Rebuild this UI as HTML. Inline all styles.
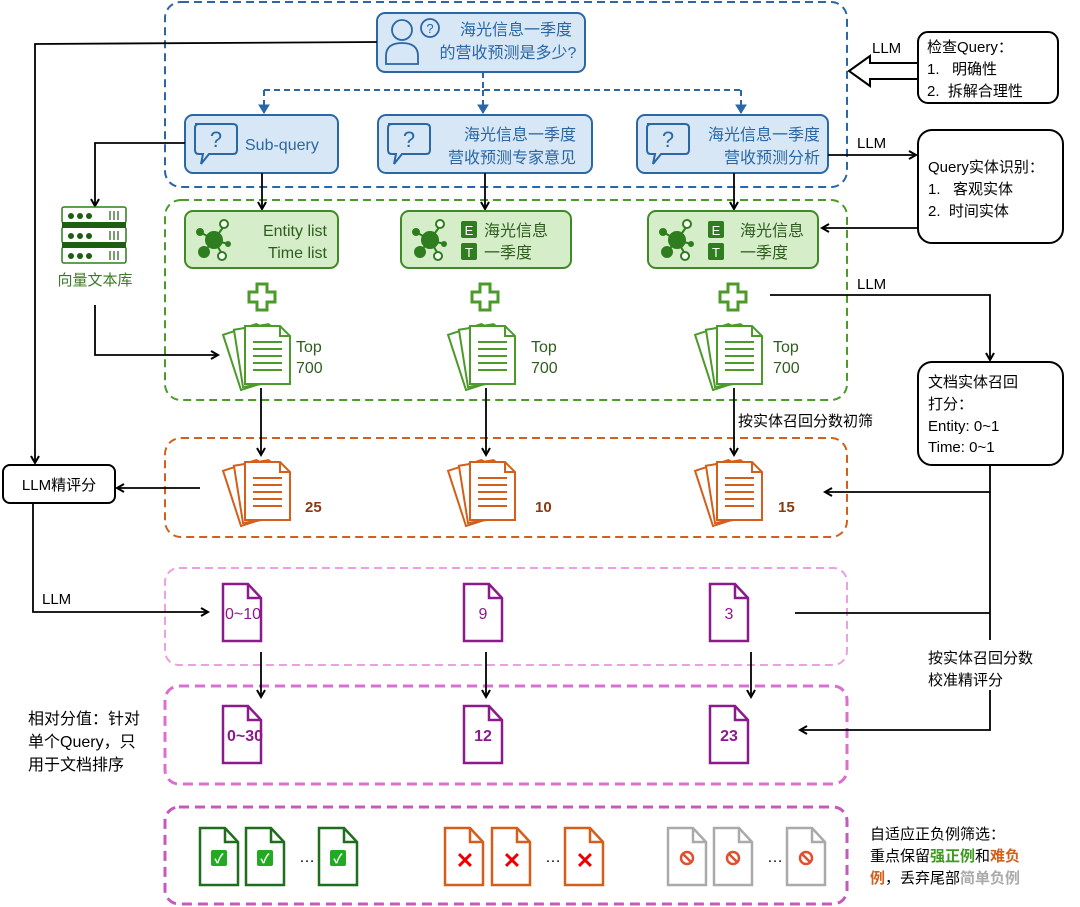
<!DOCTYPE html>
<html><head><meta charset="utf-8"><style>
body{margin:0;background:#fff}
svg{display:block}
text{font-family:"Liberation Sans","Noto Sans CJK SC",sans-serif;white-space:pre}
</style></head><body>
<svg width="1080" height="907" viewBox="0 0 1080 907" xmlns="http://www.w3.org/2000/svg">
<defs>
<marker id="ah" markerWidth="10" markerHeight="10" refX="8" refY="5" orient="auto" markerUnits="userSpaceOnUse"><path d="M1,1 L8,5 L1,9" fill="none" stroke="#000" stroke-width="2"/></marker>
<marker id="ahb" markerWidth="12" markerHeight="12" refX="9" refY="6" orient="auto" markerUnits="userSpaceOnUse"><path d="M1,1 L9,6 L1,11 Z" fill="#2a67a4" stroke="#2a67a4" stroke-width="1"/></marker>
<g id="stack" fill="#fff" stroke="currentColor" stroke-width="2">
<path d="M0,0 H35 L45,10 V58 H0 Z" transform="translate(-4,6) rotate(-18 0 58)"/>
<path d="M0,0 H35 L45,10 V58 H0 Z" transform="translate(-2,3) rotate(-9 0 58)"/>
<path d="M0,0 H35 L45,10 V58 H0 Z"/>
<path d="M35,0 V10 H45" fill="none"/>
<path d="M8,16 H37 M8,23 H37 M8,30 H37 M8,37 H37 M8,44 H37" fill="none"/>
</g>
<g id="doc" fill="#fff" stroke="currentColor" stroke-width="2.5">
<path d="M0,0 H25 L38,14 V57 H0 Z"/><path d="M25,0 V14 H38" fill="none"/>
</g>
<g id="plus"><path d="M-5,-13 H5 V-5 H13 V5 H5 V13 H-5 V5 H-13 V-5 H-5 Z" fill="#fff" stroke="#4b9a2a" stroke-width="3"/></g>
<g id="ent" fill="#2e7d1e" stroke="#2e7d1e" stroke-width="2">
<line x1="0" y1="0" x2="-14" y2="-8"/><line x1="0" y1="0" x2="10" y2="-14"/><line x1="0" y1="0" x2="-10" y2="12"/><line x1="0" y1="0" x2="8" y2="14"/><line x1="0" y1="0" x2="14" y2="4"/>
<circle r="8"/><circle cx="-14" cy="-8" r="3"/><circle cx="-10" cy="12" r="5"/><circle cx="14" cy="4" r="2"/>
<circle cx="10" cy="-16" r="4" fill="#fff"/><circle cx="8" cy="16" r="4" fill="#fff"/>
</g>
<g id="bubble" fill="none" stroke="#2a67a4" stroke-width="2">
<path d="M0,0 H38 Q42,0 42,4 V26 Q42,30 38,30 H14 L6,40 L8,30 H4 Q0,30 0,26 V4 Q0,0 4,0 Z"/>
<text x="21" y="23" text-anchor="middle" font-size="22" fill="#2a67a4" stroke="none">?</text>
</g>
</defs>

<!-- containers -->
<rect x="165" y="2" width="682" height="185" rx="16" fill="none" stroke="#2a67a4" stroke-width="2" stroke-dasharray="8,5"/>
<rect x="165" y="200" width="682" height="200" rx="16" fill="none" stroke="#4b9a2a" stroke-width="2" stroke-dasharray="8,5"/>
<rect x="165" y="438" width="682" height="99" rx="16" fill="none" stroke="#d35f1a" stroke-width="2" stroke-dasharray="8,5"/>
<rect x="165" y="568" width="682" height="97" rx="14" fill="none" stroke="#eba0e4" stroke-width="2" stroke-dasharray="8,5"/>
<rect x="165" y="686" width="682" height="98" rx="14" fill="none" stroke="#db6fd0" stroke-width="3" stroke-dasharray="10,6"/>
<rect x="165" y="807" width="682" height="97" rx="14" fill="none" stroke="#c659bd" stroke-width="3" stroke-dasharray="10,6"/>

<!-- top query -->
<rect x="377" y="13" width="208" height="59" rx="8" fill="#d8e7f6" stroke="#2a67a4" stroke-width="2"/>
<g fill="none" stroke="#2a67a4" stroke-width="1.8"><circle cx="402" cy="30" r="10"/><path d="M386,64 V56 Q386,43 402,43 Q418,43 418,56 V64 Z"/><circle cx="430" cy="28" r="9"/></g>
<text x="430" y="33" text-anchor="middle" font-size="13" fill="#2a67a4">?</text>
<text x="516" y="35" text-anchor="middle" font-size="16" fill="#2a67a4">海光信息一季度</text>
<text x="508" y="58" text-anchor="middle" font-size="16" fill="#2a67a4">的营收预测是多少?</text>
<g fill="none" stroke="#2a67a4" stroke-width="2" stroke-dasharray="6,4">
<path d="M483,72 V90"/><path d="M264,90 H741"/>
</g>
<g fill="none" stroke="#2a67a4" stroke-width="2">
<path d="M264,90 V113" stroke-dasharray="6,4" marker-end="url(#ahb)"/>
<path d="M483,90 V113" stroke-dasharray="6,4" marker-end="url(#ahb)"/>
<path d="M741,90 V113" stroke-dasharray="6,4" marker-end="url(#ahb)"/>
</g>

<!-- sub queries -->
<rect x="185" y="115" width="153" height="58" rx="8" fill="#d8e7f6" stroke="#2a67a4" stroke-width="2"/>
<use href="#bubble" transform="translate(195,124)"/>
<text x="245" y="150" font-size="16" fill="#2a67a4">Sub-query</text>
<rect x="378" y="115" width="214" height="58" rx="8" fill="#d8e7f6" stroke="#2a67a4" stroke-width="2"/>
<use href="#bubble" transform="translate(388,124)"/>
<text x="576" y="140" text-anchor="end" font-size="16" fill="#2a67a4">海光信息一季度</text>
<text x="576" y="163" text-anchor="end" font-size="16" fill="#2a67a4">营收预测专家意见</text>
<rect x="637" y="115" width="191" height="58" rx="8" fill="#d8e7f6" stroke="#2a67a4" stroke-width="2"/>
<use href="#bubble" transform="translate(647,124)"/>
<text x="820" y="140" text-anchor="end" font-size="16" fill="#2a67a4">海光信息一季度</text>
<text x="820" y="163" text-anchor="end" font-size="16" fill="#2a67a4">营收预测分析</text>

<g stroke="#000" stroke-width="1.8" fill="none">
<path d="M262,173 V209" marker-end="url(#ah)"/>
<path d="M485,173 V209" marker-end="url(#ah)"/>
<path d="M734,173 V209" marker-end="url(#ah)"/>
<path d="M261,388 V455" marker-end="url(#ah)"/>
<path d="M486,388 V455" marker-end="url(#ah)"/>
<path d="M734,388 V455" marker-end="url(#ah)"/>
<path d="M261,652 V697" marker-end="url(#ah)"/>
<path d="M486,652 V697" marker-end="url(#ah)"/>
<path d="M751,652 V697" marker-end="url(#ah)"/>
</g>

<!-- entity boxes -->
<rect x="185" y="211" width="153" height="57" rx="8" fill="#d5edc8" stroke="#3f8a26" stroke-width="2"/>
<use href="#ent" transform="translate(214,240)"/>
<text x="327" y="236" text-anchor="end" font-size="16" fill="#2e5e1e">Entity list</text>
<text x="327" y="258" text-anchor="end" font-size="16" fill="#2e5e1e">Time list</text>
<rect x="401" y="211" width="170" height="57" rx="8" fill="#d5edc8" stroke="#3f8a26" stroke-width="2"/>
<use href="#ent" transform="translate(430,240)"/>
<rect x="461" y="221" width="16" height="17" rx="2" fill="#2e7d1e"/><text x="469" y="235" text-anchor="middle" font-size="13" fill="#fff">E</text>
<rect x="461" y="243" width="16" height="17" rx="2" fill="#2e7d1e"/><text x="469" y="257" text-anchor="middle" font-size="13" fill="#fff">T</text>
<text x="484" y="236" font-size="16" fill="#2e5e1e">海光信息</text><text x="484" y="258" font-size="16" fill="#2e5e1e">一季度</text>
<rect x="648" y="211" width="170" height="57" rx="8" fill="#d5edc8" stroke="#3f8a26" stroke-width="2"/>
<use href="#ent" transform="translate(677,240)"/>
<rect x="708" y="221" width="16" height="17" rx="2" fill="#2e7d1e"/><text x="716" y="235" text-anchor="middle" font-size="13" fill="#fff">E</text>
<rect x="708" y="243" width="16" height="17" rx="2" fill="#2e7d1e"/><text x="716" y="257" text-anchor="middle" font-size="13" fill="#fff">T</text>
<text x="740" y="236" font-size="16" fill="#2e5e1e">海光信息</text><text x="740" y="258" font-size="16" fill="#2e5e1e">一季度</text>

<use href="#plus" transform="translate(262,297)"/>
<use href="#plus" transform="translate(485,297)"/>
<use href="#plus" transform="translate(733,297)"/>

<!-- top700 -->
<use href="#stack" color="#4b9a2a" transform="translate(245,326)"/>
<use href="#stack" color="#4b9a2a" transform="translate(470,326)"/>
<use href="#stack" color="#4b9a2a" transform="translate(717,326)"/>
<g font-size="16" fill="#2e5e1e"><text x="296" y="352">Top</text><text x="296" y="373">700</text><text x="531" y="352">Top</text><text x="531" y="373">700</text><text x="773" y="352">Top</text><text x="773" y="373">700</text></g>

<!-- orange -->
<use href="#stack" color="#d35f1a" transform="translate(245,462)"/>
<use href="#stack" color="#d35f1a" transform="translate(470,462)"/>
<use href="#stack" color="#d35f1a" transform="translate(717,462)"/>
<g font-size="15" font-weight="bold" fill="#8a3a12"><text x="305" y="512">25</text><text x="535" y="512">10</text><text x="778" y="512">15</text></g>

<!-- pink docs -->
<g color="#8b1a8b">
<use href="#doc" transform="translate(223,584)"/><use href="#doc" transform="translate(464,584)"/><use href="#doc" transform="translate(710,584)"/>
<use href="#doc" transform="translate(223,706)"/><use href="#doc" transform="translate(464,706)"/><use href="#doc" transform="translate(710,706)"/>
</g>
<g font-size="16" fill="#8b1a8b" text-anchor="middle"><text x="243" y="619">0~10</text><text x="483" y="619">9</text><text x="729" y="619">3</text>
<g font-weight="bold"><text x="245" y="741">0~30</text><text x="483" y="741">12</text><text x="729" y="741">23</text></g></g>

<!-- bottom -->
<g color="#1e6e1e"><use href="#doc" transform="translate(200,828)"/><use href="#doc" transform="translate(246,828)"/><use href="#doc" transform="translate(319,828)"/></g>
<g color="#d35f1a"><use href="#doc" transform="translate(445,828)"/><use href="#doc" transform="translate(492,828)"/><use href="#doc" transform="translate(565,828)"/></g>
<g color="#aaa"><use href="#doc" transform="translate(668,828)"/><use href="#doc" transform="translate(714,828)"/><use href="#doc" transform="translate(787,828)"/></g>
<g fill="#22aa22"><rect x="211" y="850" width="16" height="16" rx="2"/><rect x="257" y="850" width="16" height="16" rx="2"/><rect x="330" y="850" width="16" height="16" rx="2"/></g>
<g font-size="13" fill="#fff" text-anchor="middle" font-weight="bold"><text x="219" y="863">✓</text><text x="265" y="863">✓</text><text x="338" y="863">✓</text></g>
<g font-size="22" fill="#e00" text-anchor="middle" font-weight="bold"><text x="465" y="868">✕</text><text x="512" y="868">✕</text><text x="585" y="868">✕</text></g>
<g fill="none" stroke="#e05030" stroke-width="2.5"><circle cx="687" cy="858" r="6"/><circle cx="733" cy="858" r="6"/><circle cx="806" cy="858" r="6"/><path d="M683,854 L691,862 M729,854 L737,862 M802,854 L810,862"/></g>
<g font-size="16" fill="#000"><text x="299" y="862">…</text><text x="545" y="862">…</text><text x="767" y="862">…</text></g>

<!-- left side -->
<g stroke="#000" stroke-width="1.8" fill="none">
<path d="M377,42 L35,44 V463" marker-end="url(#ah)"/>
<path d="M185,143 H95 V206" marker-end="url(#ah)"/>
<path d="M95,305 V355 H218" marker-end="url(#ah)"/>
<path d="M200,488 H117" marker-end="url(#ah)"/>
<path d="M33,503 V612 H208" marker-end="url(#ah)"/>
</g>
<g fill="#fff" stroke="#2e7d1e" stroke-width="1.5">
<rect x="62" y="207" width="64" height="16" rx="2"/><rect x="62" y="227" width="64" height="16" rx="2"/><rect x="62" y="247" width="64" height="16" rx="2"/></g>
<rect x="62" y="222" width="64" height="6" fill="#1e5e12"/><rect x="62" y="242" width="64" height="6" fill="#1e5e12"/>
<g fill="#1e5e12"><circle cx="71" cy="216" r="3"/><circle cx="80" cy="216" r="3"/><circle cx="89" cy="216" r="3"/><circle cx="71" cy="236" r="3"/><circle cx="80" cy="236" r="3"/><circle cx="89" cy="236" r="3"/><circle cx="71" cy="256" r="3"/><circle cx="80" cy="256" r="3"/><circle cx="89" cy="256" r="3"/></g>
<g stroke="#1e5e12" stroke-width="1.2"><path d="M110,211 V220 M114,211 V220 M118,211 V220 M110,231 V240 M114,231 V240 M118,231 V240 M110,251 V260 M114,251 V260 M118,251 V260"/></g>
<text x="95" y="285" text-anchor="middle" font-size="15" fill="#3a7a26">向量文本库</text>
<rect x="3" y="465" width="112" height="38" rx="7" fill="#fff" stroke="#000" stroke-width="2"/>
<text x="59" y="490" text-anchor="middle" font-size="15">LLM精评分</text>
<text x="42" y="604" font-size="15">LLM</text>
<g font-size="16"><text x="28" y="724">相对分值：针对</text><text x="28" y="747">单个Query，只</text><text x="28" y="770">用于文档排序</text></g>

<!-- right side -->
<rect x="918" y="32" width="140" height="71" rx="10" fill="#fff" stroke="#000" stroke-width="2"/>
<g font-size="15"><text x="927" y="52">检查Query：</text><text x="927" y="74">1.   明确性</text><text x="927" y="96">2.  拆解合理性</text></g>
<path d="M917,63 H870 V56 L849,71 L870,86 V79 H917" fill="#fff" stroke="#000" stroke-width="2"/>
<text x="872" y="53" font-size="15">LLM</text>
<rect x="918" y="130" width="145" height="113" rx="14" fill="#fff" stroke="#000" stroke-width="2"/>
<g font-size="15"><text x="928" y="172">Query实体识别：</text><text x="928" y="194">1.   客观实体</text><text x="928" y="216">2.  时间实体</text></g>
<g stroke="#000" stroke-width="1.8" fill="none">
<path d="M828,155 H916" marker-end="url(#ah)"/>
<path d="M918,228 H822" marker-end="url(#ah)"/>
<path d="M770,295 H990 V360" marker-end="url(#ah)"/>
<path d="M990,465 V492 H825" marker-end="url(#ah)"/>
<path d="M990,492 V640 M990,690 V730 H800" marker-end="url(#ah)"/>
<path d="M795,613 H990"/>
</g>
<text x="857" y="148" font-size="15">LLM</text>
<text x="857" y="289" font-size="15">LLM</text>
<rect x="918" y="362" width="145" height="103" rx="14" fill="#fff" stroke="#000" stroke-width="2"/>
<g font-size="15"><text x="928" y="387">文档实体召回</text><text x="928" y="409">打分：</text><text x="928" y="431">Entity: 0~1</text><text x="928" y="452">Time: 0~1</text></g>
<text x="738" y="426" font-size="15">按实体召回分数初筛</text>
<g font-size="15"><text x="928" y="663">按实体召回分数</text><text x="928" y="685">校准精评分</text></g>
<g font-size="15"><text x="870" y="839">自适应正负例筛选：</text>
<text x="870" y="861">重点保留<tspan fill="#3f9a1e" font-weight="bold">强正例</tspan>和<tspan fill="#d35f1a" font-weight="bold">难负</tspan></text>
<text x="870" y="883"><tspan fill="#d35f1a" font-weight="bold">例</tspan>，丢弃尾部<tspan fill="#aaa" font-weight="bold">简单负例</tspan></text></g>
</svg>
</body></html>
